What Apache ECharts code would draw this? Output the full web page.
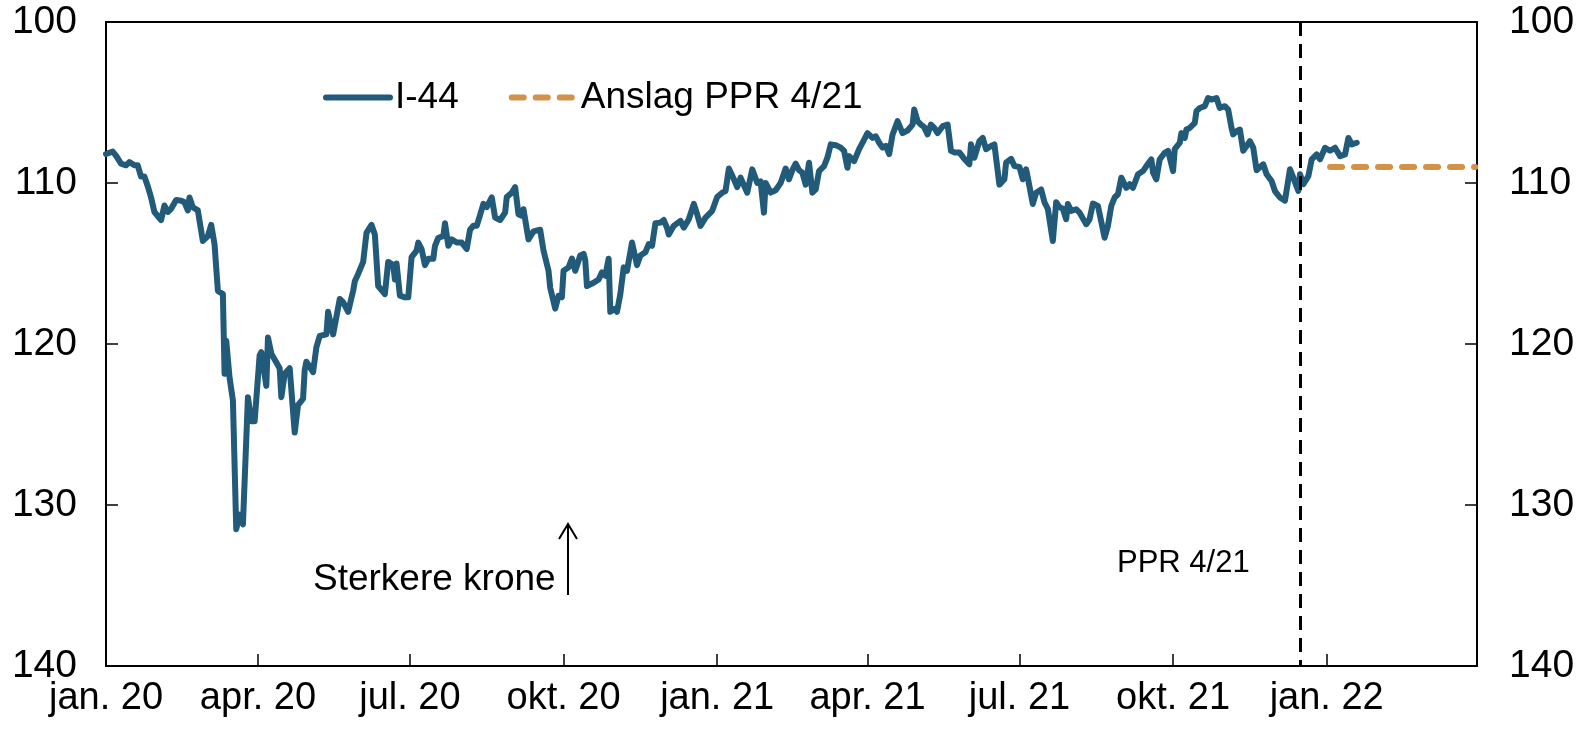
<!DOCTYPE html>
<html>
<head>
<meta charset="utf-8">
<script src="https://cdn.jsdelivr.net/npm/echarts@6/dist/echarts.min.js"></script>
<style>
  html, body { margin: 0; padding: 0; background: #fff; }
  #chart { width: 1584px; height: 732px; }
</style>
</head>
<body>
<div id="chart"></div>
<script>
// I-44 (inverted scale, higher = weaker krone)
const dates = [
  '2020-01-01','2020-01-05','2020-01-07','2020-01-10','2020-01-13','2020-01-15','2020-01-18','2020-01-20','2020-01-22','2020-01-24','2020-01-26','2020-01-28','2020-01-30',
  '2020-02-03','2020-02-05','2020-02-07','2020-02-09','2020-02-12','2020-02-15','2020-02-17','2020-02-19','2020-02-20','2020-02-22','2020-02-25','2020-02-28',
  '2020-03-02','2020-03-04','2020-03-06','2020-03-08','2020-03-11','2020-03-12','2020-03-13','2020-03-15','2020-03-17','2020-03-19','2020-03-21','2020-03-23','2020-03-26','2020-03-28','2020-03-30',
  '2020-04-02','2020-04-03','2020-04-06','2020-04-07','2020-04-09','2020-04-14','2020-04-15','2020-04-17','2020-04-20','2020-04-23','2020-04-25','2020-04-28','2020-04-29','2020-04-30',
  '2020-05-04','2020-05-06','2020-05-08','2020-05-12','2020-05-13','2020-05-16','2020-05-20','2020-05-22','2020-05-25','2020-05-28','2020-05-29','2020-05-31',
  '2020-06-03','2020-06-05','2020-06-08','2020-06-10','2020-06-11','2020-06-12','2020-06-16','2020-06-18','2020-06-21','2020-06-22','2020-06-23','2020-06-25','2020-06-28','2020-06-30',
  '2020-07-02','2020-07-05','2020-07-06','2020-07-08','2020-07-10','2020-07-12','2020-07-15','2020-07-16','2020-07-18','2020-07-21','2020-07-22','2020-07-24','2020-07-26','2020-07-29',
  '2020-08-01','2020-08-04','2020-08-06','2020-08-08','2020-08-10','2020-08-12','2020-08-14','2020-08-16','2020-08-19','2020-08-21','2020-08-24','2020-08-27','2020-08-28','2020-08-31',
  '2020-09-02','2020-09-04','2020-09-06','2020-09-07','2020-09-10','2020-09-13','2020-09-17','2020-09-19','2020-09-22','2020-09-23','2020-09-26','2020-09-28','2020-09-30',
  '2020-10-01','2020-10-04','2020-10-06','2020-10-08','2020-10-11','2020-10-13','2020-10-14','2020-10-15','2020-10-19','2020-10-22','2020-10-24','2020-10-26','2020-10-28','2020-10-29',
  '2020-11-01','2020-11-02','2020-11-04','2020-11-06','2020-11-08','2020-11-11','2020-11-14','2020-11-16','2020-11-19','2020-11-21','2020-11-23','2020-11-25','2020-11-28','2020-11-30',
  '2020-12-02','2020-12-03','2020-12-06','2020-12-10','2020-12-12','2020-12-15','2020-12-18','2020-12-20','2020-12-22','2020-12-25','2020-12-29',
  '2021-01-01','2021-01-04','2021-01-06','2021-01-08','2021-01-11','2021-01-13','2021-01-15','2021-01-19','2021-01-22','2021-01-25','2021-01-27','2021-01-29','2021-01-30',
  '2021-02-02','2021-02-05','2021-02-08','2021-02-11','2021-02-13','2021-02-15','2021-02-17','2021-02-19','2021-02-21','2021-02-23','2021-02-25','2021-02-27',
  '2021-03-01','2021-03-03','2021-03-06','2021-03-08','2021-03-10','2021-03-13','2021-03-16','2021-03-18','2021-03-20','2021-03-21','2021-03-24','2021-03-27','2021-03-30',
  '2021-04-01','2021-04-04','2021-04-06','2021-04-08','2021-04-10','2021-04-12','2021-04-14','2021-04-16','2021-04-19','2021-04-22','2021-04-25','2021-04-28','2021-04-29',
  '2021-05-01','2021-05-03','2021-05-05','2021-05-07','2021-05-09','2021-05-11','2021-05-13','2021-05-16','2021-05-19','2021-05-21','2021-05-23','2021-05-26','2021-05-29',
  '2021-06-01','2021-06-02','2021-06-04','2021-06-07','2021-06-09','2021-06-11','2021-06-14','2021-06-16','2021-06-19','2021-06-22','2021-06-23','2021-06-26','2021-06-28',
  '2021-07-01','2021-07-03','2021-07-05','2021-07-06','2021-07-09','2021-07-11','2021-07-14','2021-07-16','2021-07-18','2021-07-21','2021-07-23','2021-07-25','2021-07-27','2021-07-29','2021-07-30',
  '2021-08-01','2021-08-04','2021-08-06','2021-08-07','2021-08-10','2021-08-12','2021-08-14','2021-08-17','2021-08-18','2021-08-21','2021-08-23','2021-08-25','2021-08-27','2021-08-29','2021-08-31',
  '2021-09-03','2021-09-05','2021-09-07','2021-09-10','2021-09-13','2021-09-15','2021-09-18','2021-09-19','2021-09-21','2021-09-23','2021-09-26','2021-09-28',
  '2021-10-01','2021-10-02','2021-10-05','2021-10-06','2021-10-08','2021-10-09','2021-10-11','2021-10-14','2021-10-15','2021-10-17','2021-10-20','2021-10-22','2021-10-24','2021-10-27','2021-10-29',
  '2021-11-01','2021-11-03','2021-11-05','2021-11-06','2021-11-08','2021-11-10','2021-11-12','2021-11-14','2021-11-16','2021-11-18','2021-11-20','2021-11-24','2021-11-26','2021-11-29',
  '2021-12-01','2021-12-04','2021-12-07','2021-12-10','2021-12-12','2021-12-15','2021-12-16','2021-12-18','2021-12-21','2021-12-23','2021-12-26','2021-12-28','2021-12-31',
  '2022-01-03','2022-01-06','2022-01-09','2022-01-12','2022-01-14','2022-01-16','2022-01-19'
]
const i44 = [
  108.2,108.05,108.3,108.8,108.9,108.7,108.9,108.9,109.6,109.6,110.2,110.9,111.8,
  112.3,111.4,111.8,111.6,111.05,111.1,111.2,111.7,110.9,111.5,111.7,113.6,
  113.3,112.6,113.8,116.7,116.9,121.85,119.8,122.1,123.5,131.5,130.6,131.2,123.3,124.8,124.8,
  120.7,120.5,122.6,119.6,120.6,121.5,123.3,121.85,121.5,125.5,123.8,123.4,121.6,121.1,
  121.75,120.2,119.5,119.4,118.0,119.4,117.2,117.4,118.0,116.7,116.1,115.65,
  114.9,113.1,112.6,113.2,113.2,116.4,116.9,114.9,115.1,116.0,115.0,117.0,117.1,117.1,
  114.6,114.2,113.7,114.1,115.1,114.7,114.7,113.9,113.4,113.3,112.5,113.9,113.5,113.7,
  113.7,114.1,112.9,112.66,112.66,112.0,111.3,111.5,110.9,112.15,112.3,111.84,110.87,110.6,
  110.25,111.94,112.04,111.63,113.5,113.0,112.9,114.2,115.45,116.5,117.8,117.0,117.1,
  115.45,115.24,114.7,115.45,114.5,114.4,114.8,116.4,116.2,116.0,115.55,115.76,114.7,118.0,
  117.8,118.0,116.9,115.24,115.45,113.7,115.1,114.5,114.3,113.8,113.9,112.5,112.46,112.3,
  112.8,113.2,112.66,112.35,112.77,112.25,111.3,111.94,112.66,112.15,111.73,
  110.87,110.6,110.5,109.1,109.77,110.25,109.67,110.6,109.15,110.0,109.9,111.84,110.0,
  110.6,110.45,110.0,109.1,109.77,109.2,108.8,109.2,109.36,110.1,108.74,110.6,
  110.4,109.26,108.95,108.43,107.6,107.65,107.8,108.0,109.05,108.33,108.64,107.9,107.3,
  106.9,107.2,107.1,107.5,107.8,107.7,108.2,107.0,106.16,106.9,106.74,106.37,105.44,
  106.16,106.37,106.53,106.98,106.37,106.58,106.9,106.47,106.37,108.0,108.1,108.1,108.5,
  108.84,107.6,108.43,107.4,107.2,107.9,107.7,107.6,110.1,109.77,108.74,108.5,108.95,
  109.0,109.77,109.15,109.67,111.3,110.6,110.4,111.2,111.6,113.6,111.2,111.5,111.6,112.25,111.3,
  111.73,111.63,111.84,111.73,112.56,112.25,111.28,111.42,111.53,113.4,112.66,111.42,110.9,110.7,109.67,
  110.3,110.08,110.3,109.46,109.26,108.95,108.53,109.36,109.77,108.53,108.12,108.0,
  109.26,107.9,107.5,106.9,107.2,106.67,106.58,106.27,105.54,105.34,105.23,104.72,104.82,104.72,105.34,
  105.23,105.44,106.58,106.98,106.78,106.68,108.0,107.7,107.4,107.8,109.2,108.84,109.46,109.88,
  110.5,110.9,111.1,109.15,109.67,110.5,109.46,110.08,109.57,108.53,108.22,108.53,107.81,
  108.0,107.81,108.33,108.22,107.2,107.6,107.5
]
// Anslag PPR 4/21
const forecastDates = ['2022-01-03', '2022-03-31']
const forecastValues = [109.0, 109.0]
const pprDate = '2021-12-16'

const tickDates = ['2020-01-01','2020-04-01','2020-07-01','2020-10-01','2021-01-01','2021-04-01','2021-07-01','2021-10-01','2022-01-01']
const tickLabels = ['jan. 20','apr. 20','jul. 20','okt. 20','jan. 21','apr. 21','jul. 21','okt. 21','jan. 22']
const xMin = '2020-01-01'
const xMax = '2022-04-01'
const yTicks = [100, 110, 120, 130, 140]

const FONT = 'Liberation Sans, Arial, sans-serif'
const BLUE = '#225a7a'
const ORANGE = '#d4914a'

function toTime (s) {
  const p = s.split('-')
  return new Date(+p[0], +p[1] - 1, +p[2]).getTime()
}
const tickTimes = tickDates.map(toTime)

const myChart = echarts.init(document.getElementById('chart'))

function yAxisCfg (pos, margin) {
  return {
    type: 'value',
    position: pos,
    inverse: true,
    min: yTicks[0],
    max: yTicks[yTicks.length - 1],
    interval: 10,
    axisLine: { show: true, lineStyle: { color: '#000', width: 2 } },
    axisTick: { show: true, inside: true, length: 12, lineStyle: { color: '#000', width: 1.5 } },
    splitLine: { show: false },
    axisLabel: { color: '#000', fontSize: 39, fontFamily: FONT, margin: margin }
  }
}

const option = {
  animation: false,
  backgroundColor: '#fff',
  grid: {
    left: 106, right: 107, top: 22, bottom: 66,
    show: true, borderColor: '#000', borderWidth: 2
  },
  legend: {
    left: 323,
    top: 79,
    padding: 0,
    itemWidth: 64,
    itemHeight: 14,
    itemGap: 50,
    textStyle: { color: '#000', fontSize: 37, fontFamily: FONT },
    itemStyle: { opacity: 0 },
    data: [
      { name: 'I-44', lineStyle: { color: BLUE, width: 6, cap: 'round' } },
      { name: 'Anslag PPR 4/21', lineStyle: { color: ORANGE, width: 6, type: [12, 12], cap: 'round' } }
    ]
  },
  xAxis: {
    // dates as timestamps on a value axis, ticks at quarter starts
    type: 'value',
    min: toTime(xMin),
    max: toTime(xMax),
    axisLine: { show: true, lineStyle: { color: '#000', width: 2 } },
    axisTick: {
      show: true, inside: true, length: 12,
      customValues: tickTimes,
      lineStyle: { color: '#000', width: 1.5 }
    },
    splitLine: { show: false },
    axisLabel: {
      color: '#000', fontSize: 38, fontFamily: FONT, margin: 14,
      customValues: tickTimes,
      formatter: function (val) {
        for (let i = 0; i < tickTimes.length; i++) {
          if (Math.abs(tickTimes[i] - val) < 86400000) return tickLabels[i]
        }
        return ''
      }
    }
  },
  yAxis: [yAxisCfg('left', 29), yAxisCfg('right', 32)],
  series: [
    {
      name: 'I-44',
      type: 'line',
      symbol: 'none',
      yAxisIndex: 0,
      lineStyle: { color: BLUE, width: 6, cap: 'round', join: 'round' },
      itemStyle: { color: BLUE },
      data: dates.map((d, i) => [toTime(d), i44[i]]),
      markLine: {
        silent: true,
        symbol: 'none',
        label: { show: false },
        lineStyle: { color: '#000', type: [14, 8], width: 3 },
        data: [{ xAxis: toTime(pprDate) }]
      },
      z: 3
    },
    {
      name: 'Anslag PPR 4/21',
      type: 'line',
      symbol: 'none',
      yAxisIndex: 0,
      lineStyle: { color: ORANGE, width: 6, type: [12, 12], cap: 'round' },
      itemStyle: { color: ORANGE },
      data: forecastDates.map((d, i) => [toTime(d), forecastValues[i]]),
      z: 2
    }
  ],
  graphic: [
    // pil og tekst
    {
      type: 'text', left: 313, top: 561,
      style: { text: 'Sterkere krone', fill: '#000', fontSize: 37, fontFamily: FONT }
    },
    {
      type: 'line', shape: { x1: 568, y1: 595, x2: 568, y2: 524 },
      style: { stroke: '#000', lineWidth: 2 }
    },
    {
      type: 'polyline', shape: { points: [[559, 539], [568, 524], [577, 539]] },
      style: { stroke: '#000', lineWidth: 2, fill: null }
    },
    {
      type: 'text', left: 1117, top: 548,
      style: { text: 'PPR 4/21', fill: '#000', fontSize: 31, fontFamily: FONT }
    }
  ]
}

myChart.clear()
myChart.setOption(option)
</script>
</body>
</html>
